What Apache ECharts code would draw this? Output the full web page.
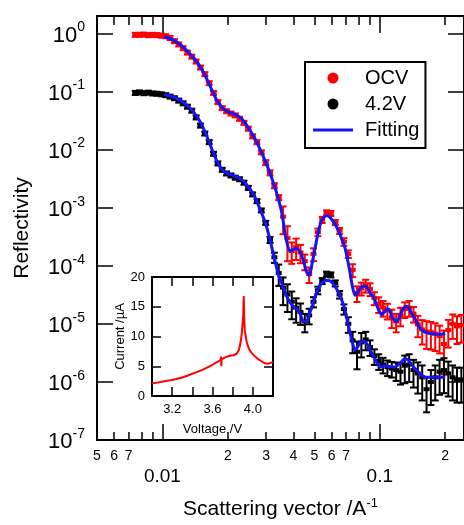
<!DOCTYPE html>
<html>
<head>
<meta charset="utf-8">
<script src="https://cdn.jsdelivr.net/npm/echarts@6.0.0/dist/echarts.min.js"></script>
<style>
html,body{margin:0;padding:0;background:#fff;}
#chart{width:464px;height:525px;}
</style>
</head>
<body>
<div id="chart"></div>
<script>
// ---- Reflectivity data ----
const qValues = [0.00750,0.00785,0.00822,0.00861,0.00902,0.00944,0.00989,0.01035,0.01084,0.01135,
  0.01189,0.01245,0.01303,0.01365,0.01429,0.01496,0.01567,0.01641,0.01718,0.01799,
  0.01884,0.01973,0.02066,0.02163,0.02265,0.02372,0.02483,0.02600,0.02723,0.02851,
  0.02986,0.03126,0.03274,0.03428,0.03590,0.03759,0.03936,0.04121,0.04316,0.04519,
  0.04732,0.04955,0.05189,0.05433,0.05689,0.05957,0.06238,0.06532,0.06840,0.07162,
  0.07500,0.07853,0.08224,0.08611,0.09017,0.09442,0.09887,0.1035,0.1084,0.1135,
  0.1189,0.1245,0.1303,0.1365,0.1429,0.1496,0.1567,0.1641,0.1718,0.1799,
  0.1884,0.1973,0.2066,0.2163,0.2265,0.2372];

const ocvR = [0.95,0.95,0.96,0.94,0.95,0.94,0.92,0.90,0.84,0.74,
  0.65,0.56,0.47,0.40,0.33,0.26,0.20,0.14,0.095,0.066,
  0.052,0.046,0.042,0.039,0.034,0.029,0.023,0.017,0.0135,0.0090,
  0.0060,0.0040,0.0024,0.0015,0.00070,0.00030,0.00018,0.00021,0.00017,0.00012,
  0.000072,0.00016,0.00038,0.00062,0.00082,0.00080,0.00056,0.00040,0.00026,0.00016,
  0.000085,0.000034,0.000041,0.000046,0.000040,0.000028,0.000022,0.000019,0.000017,0.000013,
  0.000011,0.000014,0.000018,0.000019,0.000015,0.0000098,0.0000080,0.0000074,0.0000072,0.0000068,
  0.0000062,0.0000045,0.0000078,0.0000100,0.0000090,0.0000095];
const ocvErr = [0.08,0.08,0.08,0.08,0.08,0.08,0.08,0.08,0.08,0.08,
  0.08,0.08,0.08,0.08,0.08,0.08,0.08,0.08,0.08,0.08,
  0.08,0.08,0.08,0.08,0.08,0.08,0.08,0.08,0.08,0.08,
  0.1,0.1,0.1,0.1,0.5,0.6,0.4,0.4,0.35,0.3,
  0.3,0.25,0.15,0.12,0.1,0.1,0.1,0.12,0.15,0.15,
  0.25,0.3,0.25,0.25,0.25,0.25,0.3,0.3,0.3,0.35,
  0.35,0.35,0.3,0.3,0.3,0.4,0.45,0.5,0.5,0.5,
  0.5,0.7,0.5,0.45,0.5,0.5];

const v42R = [0.095,0.097,0.094,0.096,0.093,0.092,0.090,0.087,0.082,0.077,
  0.070,0.063,0.055,0.047,0.036,0.026,0.019,0.0135,0.0085,0.0058,
  0.0045,0.0039,0.0036,0.0033,0.0031,0.0027,0.0022,0.0017,0.0013,0.00090,
  0.00055,0.00028,0.00014,0.000075,0.000042,0.000032,0.000024,0.000019,0.000016,0.000011,
  0.000014,0.000024,0.000038,0.000055,0.000072,0.000070,0.000050,0.000032,0.000018,0.000010,
  0.0000052,0.0000033,0.0000048,0.0000054,0.0000040,0.0000028,0.0000023,0.0000020,0.0000018,0.0000017,
  0.0000016,0.0000015,0.0000019,0.0000020,0.0000016,0.0000014,0.0000012,0.00000075,0.0000010,0.0000012,
  0.0000015,0.0000016,0.0000014,0.0000012,0.0000011,0.0000011];
const v42Err = [0.08,0.08,0.08,0.08,0.08,0.08,0.08,0.08,0.08,0.08,
  0.08,0.08,0.08,0.08,0.08,0.08,0.08,0.08,0.08,0.08,
  0.08,0.08,0.08,0.08,0.08,0.08,0.08,0.08,0.08,0.08,
  0.08,0.12,0.2,0.4,0.5,0.5,0.5,0.45,0.4,0.35,
  0.3,0.2,0.15,0.12,0.1,0.1,0.12,0.15,0.2,0.3,
  0.4,0.5,0.45,0.35,0.3,0.3,0.3,0.3,0.3,0.3,
  0.35,0.4,0.5,0.5,0.5,0.55,0.6,0.6,0.6,0.6,
  0.6,0.6,0.6,0.6,0.6,0.6];

// ---- Fitting curves ----
const fitQ = [0.0102,0.0110,0.0120,0.0130,0.0140,0.0150,0.0160,0.0170,0.0180,0.0190,
  0.0200,0.0210,0.0220,0.0230,0.0240,0.0250,0.0265,0.0280,0.0295,0.0310,
  0.0325,0.0340,0.0355,0.0370,0.0385,0.0400,0.0415,0.0430,0.0445,0.0460,
  0.0475,0.0490,0.0505,0.0520,0.0535,0.0550,0.0565,0.0580,0.0595,0.0610,
  0.0630,0.0650,0.0670,0.0690,0.0710,0.0730,0.0750,0.0770,0.0790,0.0810,
  0.0830,0.0850,0.0870,0.0890,0.0910,0.0930,0.0960,0.0990,0.1020,0.1050,
  0.1080,0.1110,0.1140,0.1170,0.1200,0.1240,0.1280,0.1320,0.1360,0.1400,
  0.1450,0.1500,0.1560,0.1620,0.1700,0.1800,0.1900,0.2000];
const ocvFit = [0.88,0.80,0.66,0.50,0.37,0.26,0.165,0.10,0.066,0.051,
  0.045,0.042,0.039,0.035,0.029,0.023,0.016,0.0105,0.0068,0.0043,
  0.0026,0.0015,0.00078,0.00030,0.00018,0.00019,0.00020,0.00017,0.000125,0.000078,
  0.000068,0.00012,0.00021,0.00037,0.00055,0.00067,0.00073,0.00072,0.00066,0.00058,
  0.00048,0.00038,0.00028,0.00021,0.00013,0.000075,0.000042,0.000031,0.000034,0.000040,
  0.000044,0.000045,0.000043,0.000038,0.000033,0.000030,0.000023,0.000017,0.0000145,0.000016,
  0.000018,0.000017,0.000013,0.0000115,0.000011,0.000014,0.000018,0.000020,0.000019,0.000015,
  0.0000125,0.0000095,0.0000079,0.0000072,0.0000068,0.0000066,0.0000066,0.0000068];
const v42Fit = [0.089,0.083,0.072,0.058,0.043,0.029,0.017,0.0095,0.0058,0.0044,
  0.0039,0.0036,0.0034,0.0031,0.0027,0.0022,0.0016,0.00098,0.00060,0.00032,
  0.00015,0.000075,0.000048,0.000032,0.000024,0.000020,0.000018,0.000015,0.000011,0.000011,
  0.000015,0.000021,0.000030,0.000040,0.000048,0.000053,0.000056,0.000056,0.000054,0.000049,
  0.000041,0.000033,0.000025,0.000018,0.000011,0.0000070,0.0000046,0.0000035,0.0000040,0.0000047,
  0.0000050,0.0000050,0.0000046,0.0000040,0.0000034,0.0000029,0.0000023,0.0000019,0.0000018,0.0000019,
  0.0000019,0.0000018,0.0000018,0.0000018,0.0000019,0.0000021,0.0000024,0.0000025,0.0000023,0.0000020,
  0.0000017,0.0000015,0.0000013,0.0000012,0.0000012,0.0000012,0.0000012,0.0000012];

// ---- Inset: cyclic voltammetry ----
const cvVoltage = [3.00,3.05,3.10,3.15,3.20,3.25,3.30,3.35,3.40,3.45,3.50,3.55,3.60,3.64,3.68,3.685,3.688,3.69,
  3.72,3.75,3.78,3.81,3.84,3.86,3.87,3.88,3.89,3.90,3.905,3.91,3.915,3.92,3.93,3.94,3.96,3.98,
  4.00,4.03,4.06,4.09,4.12,4.15,4.18,4.20];
const cvCurrent = [2.1,2.25,2.4,2.55,2.7,2.9,3.1,3.4,3.75,4.05,4.4,4.8,5.25,5.65,6.05,6.6,5.0,6.15,
  6.45,6.65,6.8,6.85,7.1,7.7,8.3,9.2,10.5,12.5,13.5,16.8,13.0,11.0,10.0,9.0,8.0,7.4,
  7.0,6.5,6.1,5.8,5.5,5.4,5.6,5.7];

// ---- Ticks ----
const majorQTicks = [0.01, 0.1];
const minorQTicks = [0.005,0.006,0.007,0.008,0.009,0.02,0.03,0.04,0.05,0.06,0.07,0.08,0.09,0.2];
const minorQLabels = [0.005,0.006,0.007,0.02,0.03,0.04,0.05,0.06,0.07,0.2];
const yTicks = [1e-7,1e-6,1e-5,1e-4,1e-3,1e-2,1e-1,1];
const insetXTicks = [3.2,3.4,3.6,3.8,4.0];
const insetXLabels = [3.2,3.6,4.0];

const FONT = 'Liberation Sans, Arial, sans-serif';
const RED = '#ff0000', BLACK = '#000000', BLUE = '#1414f5';

function errData(R, E) {
  return qValues.map((q, i) => [q, R[i], R[i] * (1 - E[i]), R[i] * (1 + E[i])]);
}
function renderErr(params, api) {
  const x = api.value(0);
  const c = api.coord([x, api.value(1)]);
  const lo = api.coord([x, api.value(2)]);
  const hi = api.coord([x, api.value(3)]);
  const w = 3.5;
  const style = { stroke: api.visual('color'), lineWidth: 2 };
  return {
    type: 'group',
    children: [
      { type: 'line', shape: { x1: c[0], y1: hi[1], x2: c[0], y2: lo[1] }, style },
      { type: 'line', shape: { x1: c[0] - w, y1: hi[1], x2: c[0] + w, y2: hi[1] }, style },
      { type: 'line', shape: { x1: c[0] - w, y1: lo[1], x2: c[0] + w, y2: lo[1] }, style },
      { type: 'rect', shape: { x: c[0] - 3, y: c[1] - 2, width: 6, height: 4 }, style: { fill: api.visual('color') } }
    ]
  };
}
function digit(v) {
  const p = Math.pow(10, Math.floor(Math.log10(v) + 1e-9));
  return String(Math.round(v / p));
}
const axisLineStyle = { color: '#000', width: 2 };
const logX = { type: 'log', logBase: 10, min: 0.005, max: 0.244, gridIndex: 0, splitLine: { show: false } };
const logY = { type: 'log', logBase: 10, min: 1e-7, max: 2, gridIndex: 0, splitLine: { show: false } };

const chart = echarts.init(document.getElementById('chart'), null, { renderer: 'canvas' });
chart.setOption({
  animation: false,
  backgroundColor: '#fff',
  textStyle: { fontFamily: FONT },
  grid: [
    { left: 97, top: 16, width: 369, height: 432 },
    { left: 152, top: 277, width: 121, height: 119 }
  ],
  legend: {
    left: 305, top: 62, orient: 'vertical',
    borderColor: '#000', borderWidth: 2,
    padding: [6, 6, 8, 8], itemGap: 6,
    itemWidth: 40, itemHeight: 11,
    textStyle: { fontSize: 20, color: '#000', fontFamily: FONT, padding: [0, 0, 0, 7] },
    data: [
      { name: 'OCV', icon: 'circle' },
      { name: '4.2V', icon: 'circle' },
      { name: 'Fitting', icon: 'path://M0,0H40V3H0Z' }
    ]
  },
  xAxis: [
    Object.assign({}, logX, {
      position: 'bottom',
      axisLine: { onZero: false, lineStyle: axisLineStyle },
      axisTick: { inside: true, length: 16, customValues: majorQTicks, lineStyle: { color: '#000', width: 1.5 } },
      axisLabel: { customValues: majorQTicks, formatter: v => (v < 0.05 ? '0.01' : '0.1'), fontSize: 19, color: '#000', margin: 27, fontFamily: FONT },
      name: 'Scattering vector /A{s|-1}', nameLocation: 'middle', nameGap: 57,
      nameTextStyle: { fontSize: 21, color: '#000', fontFamily: FONT,
        rich: { s: { fontSize: 13, color: '#000', fontFamily: FONT, verticalAlign: 'bottom', padding: [0, 0, 12, 0] } } }
    }),
    Object.assign({}, logX, {
      position: 'bottom',
      axisLine: { show: false, onZero: false },
      axisTick: { inside: true, length: 8, customValues: minorQTicks, lineStyle: { color: '#000', width: 1.5 } },
      axisLabel: { customValues: minorQLabels, formatter: digit, fontSize: 14, color: '#000', margin: 9, fontFamily: FONT }
    }),
    Object.assign({}, logX, {
      position: 'top',
      axisLine: { onZero: false, lineStyle: axisLineStyle },
      axisTick: { inside: true, length: 17, customValues: majorQTicks, lineStyle: { color: '#000', width: 1.5 } },
      axisLabel: { show: false }
    }),
    Object.assign({}, logX, {
      position: 'top',
      axisLine: { show: false, onZero: false },
      axisTick: { inside: true, length: 9, customValues: minorQTicks, lineStyle: { color: '#000', width: 1.5 } },
      axisLabel: { show: false }
    }),
    {
      type: 'value', gridIndex: 1, min: 3.0, max: 4.2, position: 'bottom',
      splitLine: { show: false },
      axisLine: { onZero: false, lineStyle: axisLineStyle },
      axisTick: { inside: true, length: 9, customValues: insetXTicks, lineStyle: { color: '#000', width: 1.5 } },
      axisLabel: { customValues: insetXLabels, formatter: v => v.toFixed(1), fontSize: 13, color: '#000', margin: 7, fontFamily: FONT },
      name: 'Voltage /V', nameLocation: 'middle', nameGap: 27,
      nameTextStyle: { fontSize: 13, color: '#000', fontFamily: FONT }
    },
    {
      type: 'value', gridIndex: 1, min: 3.0, max: 4.2, position: 'top',
      splitLine: { show: false },
      axisLine: { onZero: false, lineStyle: axisLineStyle },
      axisTick: { inside: true, length: 9, customValues: insetXTicks, lineStyle: { color: '#000', width: 1.5 } },
      axisLabel: { show: false }
    }
  ],
  yAxis: [
    Object.assign({}, logY, {
      position: 'left',
      axisLine: { onZero: false, lineStyle: axisLineStyle },
      axisTick: { inside: true, length: 16, customValues: yTicks, lineStyle: { color: '#000', width: 1.5 } },
      axisLabel: {
        customValues: yTicks, margin: 12, color: '#000', fontFamily: FONT,
        formatter: v => '{b|10}{s|' + Math.round(Math.log10(v)) + '}',
        rich: {
          b: { fontSize: 22, color: '#000', fontFamily: FONT, verticalAlign: 'bottom' },
          s: { fontSize: 14, color: '#000', fontFamily: FONT, verticalAlign: 'bottom', padding: [0, 0, 12, 0] }
        }
      },
      name: 'Reflectivity', nameLocation: 'middle', nameGap: 64, nameRotate: 90,
      nameTextStyle: { fontSize: 21, color: '#000', fontFamily: FONT }
    }),
    Object.assign({}, logY, {
      position: 'right',
      axisLine: { onZero: false, lineStyle: axisLineStyle },
      axisTick: { inside: true, length: 16, customValues: yTicks, lineStyle: { color: '#000', width: 1.5 } },
      axisLabel: { show: false }
    }),
    {
      type: 'value', gridIndex: 1, min: 0, max: 20, interval: 5, position: 'left',
      splitLine: { show: false },
      axisLine: { onZero: false, lineStyle: axisLineStyle },
      axisTick: { inside: true, length: 9, lineStyle: { color: '#000', width: 1.5 } },
      axisLabel: { fontSize: 13, color: '#000', margin: 7, fontFamily: FONT },
      name: 'Current /\u00b5A', nameLocation: 'middle', nameGap: 25, nameRotate: 90,
      nameTextStyle: { fontSize: 13, color: '#000', fontFamily: FONT }
    },
    {
      type: 'value', gridIndex: 1, min: 0, max: 20, interval: 5, position: 'right',
      splitLine: { show: false },
      axisLine: { onZero: false, lineStyle: axisLineStyle },
      axisTick: { inside: true, length: 9, lineStyle: { color: '#000', width: 1.5 } },
      axisLabel: { show: false }
    }
  ],
  series: [
    {
      name: 'OCV', type: 'custom', xAxisIndex: 0, yAxisIndex: 0,
      itemStyle: { color: RED }, renderItem: renderErr,
      encode: { x: 0, y: [1, 2, 3] }, data: errData(ocvR, ocvErr), z: 2, clip: true
    },
    {
      name: '4.2V', type: 'custom', xAxisIndex: 0, yAxisIndex: 0,
      itemStyle: { color: BLACK }, renderItem: renderErr,
      encode: { x: 0, y: [1, 2, 3] }, data: errData(v42R, v42Err), z: 2, clip: true
    },
    {
      name: 'Fitting', type: 'line', xAxisIndex: 0, yAxisIndex: 0,
      data: fitQ.map((q, i) => [q, ocvFit[i]]),
      showSymbol: false, symbol: 'none', smooth: 0.2,
      itemStyle: { color: BLUE }, lineStyle: { color: BLUE, width: 3 }, z: 3
    },
    {
      name: 'Fitting', type: 'line', xAxisIndex: 0, yAxisIndex: 0,
      data: fitQ.map((q, i) => [q, v42Fit[i]]),
      showSymbol: false, symbol: 'none', smooth: 0.2,
      itemStyle: { color: BLUE }, lineStyle: { color: BLUE, width: 3 }, z: 3
    },
    {
      name: 'CV', type: 'line', xAxisIndex: 4, yAxisIndex: 2,
      data: cvVoltage.map((v, i) => [v, cvCurrent[i]]),
      showSymbol: false, symbol: 'none',
      lineStyle: { color: RED, width: 2 }, itemStyle: { color: RED }, z: 3
    }
  ]
});
</script>
</body>
</html>
